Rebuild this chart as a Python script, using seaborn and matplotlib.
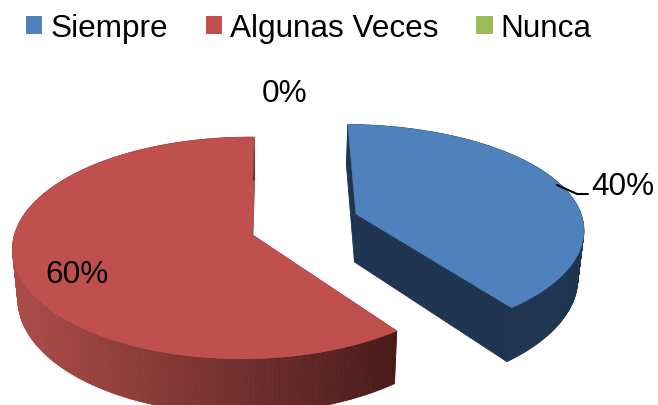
import numpy as np
import matplotlib
matplotlib.use('Agg')
import matplotlib.pyplot as plt
import seaborn as sns
from matplotlib.colors import LinearSegmentedColormap
from matplotlib.patches import Patch, Polygon

categorias = ['Siempre', 'Algunas Veces', 'Nunca']
valores = [40, 60, 0]

colores = ['#4F81BD', '#C0504D', '#9BBB59']
lados = [('#1F3552', '#1F3552'), ('#AC4C49', '#491C19'), ('#6F8A3C', '#6F8A3C')]

# where each slice sits (pixels), the slices are pulled apart
centros = [(356, 215), (251, 235), (300, 225)]
pos_etiquetas = [(623, 187), (77, 275), (285, 94)]

# fake 3d camera
VX = 280
ANCHO = 231
ALTOS = [103, 109, 109]
PS = [0.151, 0.126, 0.126]
PX = 0.12
Q = 0.02
GROSOR = 48
CONV = 0.98

sns.set_theme(style='white')
plt.rcParams['font.family'] = ['Liberation Sans', 'DejaVu Sans']


def proyectar(xy, i, abajo=False):
    x, y = xy[:, 0], xy[:, 1]
    s = 1 / (1 + PS[i] * y + Q * x)
    sx = 1 / (1 + PX * y + Q * x)
    px = VX + (centros[i][0] + ANCHO * x - VX) * sx
    py = centros[i][1] - ALTOS[i] * y * s
    if abajo:
        py = py + GROSOR * s
        px = VX + (px - VX) * CONV
    return np.column_stack([px, py])


fig = plt.figure(figsize=(6.58, 4.06), dpi=100)
ax = fig.add_axes([0, 0, 1, 1])

wedges, _ = ax.pie(valores, startangle=90, counterclock=False, radius=1)
arcos = []
for w in wedges:
    t = np.radians(np.linspace(w.theta1, w.theta2, 200))
    arcos.append(np.column_stack([np.cos(t), np.sin(t)]))
    w.remove()

ax.set_aspect('auto')
ax.set_xlim(0, 658)
ax.set_ylim(406, 0)
ax.axis('off')

for i, v in enumerate(valores):
    if v == 0:
        continue
    arco = arcos[i]
    cmap = LinearSegmentedColormap.from_list('lado', lados[i])

    # cut faces first
    borde = np.array([arco[0], [0, 0], arco[-1]])
    arriba = proyectar(borde, i)
    bajo = proyectar(borde, i, abajo=True)
    for k in range(2):
        quad = [arriba[k], arriba[k + 1], bajo[k + 1], bajo[k]]
        ax.add_patch(Polygon(quad, fc=lados[i][0], ec=lados[i][0], lw=0.6, zorder=2))

    # outer wall, strip by strip
    arriba = proyectar(arco, i)
    bajo = proyectar(arco, i, abajo=True)
    for k in range(len(arco) - 1):
        quad = [arriba[k], arriba[k + 1], bajo[k + 1], bajo[k]]
        col = cmap(np.clip((arriba[k, 0] - 12) / 382, 0, 1))
        ax.add_patch(Polygon(quad, fc=col, ec=col, lw=0.6, zorder=3))

    cara = np.vstack([[[0, 0]], arco])
    ax.add_patch(Polygon(proyectar(cara, i), fc=colores[i], ec=colores[i], lw=0.4, zorder=4))

for v, (x, y) in zip(valores, pos_etiquetas):
    ax.text(x, y, f'{v}%', ha='center', va='center', fontsize=22.7, color='black', zorder=6)

# leader for the 40%
ax.plot([557, 577, 588], [186, 195, 195], color='black', lw=1.5, zorder=5)

handles = [Patch(fc=c, ec='none', label=n) for c, n in zip(colores, categorias)]
ax.legend(handles=handles, ncol=3, loc='upper left', bbox_to_anchor=(0.0395, 0.965), frameon=False,
          fontsize=22.7, labelcolor='black', handlelength=0.52, handleheight=0.54, handletextpad=0.25,
          columnspacing=1.2, borderaxespad=0, borderpad=0)

fig.savefig('out.png', dpi=100)
